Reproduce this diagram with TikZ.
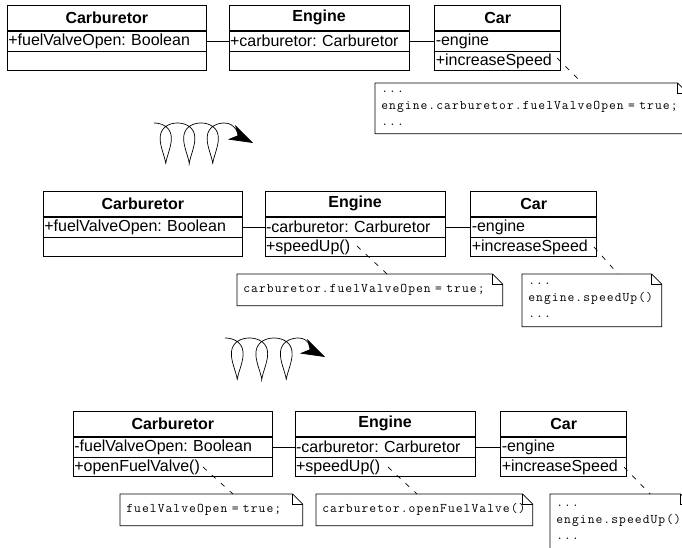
\documentclass[tikz,border=0pt]{standalone}
\usepackage{fontspec}
\setmainfont{Liberation Sans}
\newfontfamily\codefont{Latin Modern Mono}[LetterSpace=8]
\usetikzlibrary{arrows.meta,positioning}
\frenchspacing
\tikzset{
  classhead/.style={draw,font=\fontsize{16}{19}\selectfont\bfseries,minimum width=#1,minimum height=25pt,inner sep=0pt,anchor=north west},
  classrow/.style={draw,font=\fontsize{16}{19}\selectfont,text width=#1,minimum height=20pt,inner xsep=1pt,inner ysep=0pt,align=left},
  notebox/.style={font=\codefont\fontsize{13.2}{16.5}\selectfont,inner xsep=6pt,inner ysep=0pt,align=left,anchor=north west},
  notelink/.style={dash pattern=on 5pt off 7pt},
  coilarrow/.style={-{Stealth[length=24pt,width=16pt,inset=7pt]}}
}
\newcommand{\notefold}[1]{%
  \draw (#1.north west) -- ([xshift=-10pt]#1.north east) -- ([yshift=-10pt]#1.north east) -- (#1.south east) -- (#1.south west) -- cycle;
  \draw ([xshift=-10pt]#1.north east) |- ([yshift=-10pt]#1.north east);}
\begin{document}
\begin{tikzpicture}[x=1pt,y=-1pt,line width=0.7pt]
  \useasboundingbox (0,0) rectangle (682,548);
  \clip (0,0) rectangle (682,548);
  % first version
  \node[classhead=199pt] (carbA) at (7,5) {Carburetor};
  \node[classrow=197pt,below=0pt of carbA] (carbAattr) {+fuelValveOpen: Boolean};
  \node[classrow=197pt,minimum height=19pt,below=0pt of carbAattr] (carbAop) {};
  \node[classhead=180pt,right=22pt of carbA] (engA) {Engine};
  \node[classrow=178pt,below=0pt of engA] (engAattr) {+carburetor: Carburetor};
  \node[classrow=178pt,minimum height=19pt,below=0pt of engAattr] (engAop) {};
  \node[classhead=126pt,right=25pt of engA] (carA) {Car};
  \node[classrow=124pt,below=0pt of carA] (carAattr) {-engine};
  \node[classrow=124pt,minimum height=19pt,below=0pt of carAattr] (carAop) {+increaseSpeed};
  \draw (carbAattr) -- (engAattr);
  \draw (engAattr) -- (carAattr);
  \node[notebox,text width=300pt,minimum height=50pt] (noteCarA) at (375,83) {...\\engine.carburetor.fuelValveOpen~=~true;\\...};
  \notefold{noteCarA}
  \coordinate (carAlink) at (557,58);
  \draw[notelink] (carAlink) -- ([xshift=207pt]noteCarA.north west);
  % first refactoring
  \draw[coilarrow] plot[domain=0:6*pi,samples=200,variable=\t] ({154+3.74*\t+11*sin(\t r)+3.63*sin(2*\t r)},{143.5-20.5*cos(\t r)}) .. controls (236,123) and (239,136) .. (253,143);
  % second version
  \node[classhead=199pt] (carbB) at (43,191) {Carburetor};
  \node[classrow=197pt,below=0pt of carbB] (carbBattr) {+fuelValveOpen: Boolean};
  \node[classrow=197pt,minimum height=19pt,below=0pt of carbBattr] (carbBop) {};
  \node[classhead=180pt,right=22pt of carbB] (engB) {Engine};
  \node[classrow=178pt,below=0pt of engB] (engBattr) {-carburetor: Carburetor};
  \node[classrow=178pt,minimum height=19pt,below=0pt of engBattr] (engBop) {+speedUp()};
  \node[classhead=126pt,right=25pt of engB] (carB) {Car};
  \node[classrow=124pt,below=0pt of carB] (carBattr) {-engine};
  \node[classrow=124pt,minimum height=19pt,below=0pt of carBattr] (carBop) {+increaseSpeed};
  \draw (carbBattr) -- (engBattr);
  \draw (engBattr) -- (carBattr);
  \node[notebox,text width=253pt,minimum height=31pt] (noteEngB) at (237,274) {carburetor.fuelValveOpen~=~true;};
  \notefold{noteEngB}
  \node[notebox,text width=127pt,minimum height=52pt] (noteCarB) at (522,274) {...\\engine.speedUp()\\...};
  \notefold{noteCarB}
  \coordinate (engBlink) at (357,246);
  \coordinate (carBlink) at (594,247);
  \draw[notelink] (engBlink) -- ([xshift=150pt]noteEngB.north west);
  \draw[notelink] (carBlink) -- ([xshift=96pt]noteCarB.north west);
  % second refactoring
  \draw[coilarrow] plot[domain=0:6*pi,samples=200,variable=\t] ({225+3.9*\t+11.5*sin(\t r)+3.8*sin(2*\t r)},{359-21*cos(\t r)}) .. controls (310,338) and (311,350) .. (325,357);
  % third version
  \node[classhead=199pt] (carbC) at (73,411) {Carburetor};
  \node[classrow=197pt,below=0pt of carbC] (carbCattr) {-fuelValveOpen: Boolean};
  \node[classrow=197pt,minimum height=19pt,below=0pt of carbCattr] (carbCop) {+openFuelValve()};
  \node[classhead=180pt,right=22pt of carbC] (engC) {Engine};
  \node[classrow=178pt,below=0pt of engC] (engCattr) {-carburetor: Carburetor};
  \node[classrow=178pt,minimum height=19pt,below=0pt of engCattr] (engCop) {+speedUp()};
  \node[classhead=126pt,right=25pt of engC] (carC) {Car};
  \node[classrow=124pt,below=0pt of carC] (carCattr) {-engine};
  \node[classrow=124pt,minimum height=19pt,below=0pt of carCattr] (carCop) {+increaseSpeed};
  \draw (carbCattr) -- (engCattr);
  \draw (engCattr) -- (carCattr);
  \node[notebox,text width=170pt,minimum height=31pt] (noteCarbC) at (120,494) {fuelValveOpen~=~true;};
  \notefold{noteCarbC}
  \node[notebox,text width=204pt,minimum height=31pt] (noteEngC) at (316,494) {carburetor.openFuelValve()};
  \notefold{noteEngC}
  \node[notebox,text width=128pt,minimum height=56pt] (noteCarC) at (550,494) {...\\engine.speedUp()\\...};
  \notefold{noteCarC}
  \coordinate (carbClink) at (203,467);
  \coordinate (engClink) at (388,467);
  \coordinate (carClink) at (624,467);
  \draw[notelink] (carbClink) -- ([xshift=113pt]noteCarbC.north west);
  \draw[notelink] (engClink) -- ([xshift=101pt]noteEngC.north west);
  \draw[notelink] (carClink) -- ([xshift=100pt]noteCarC.north west);
\end{tikzpicture}
\end{document}
